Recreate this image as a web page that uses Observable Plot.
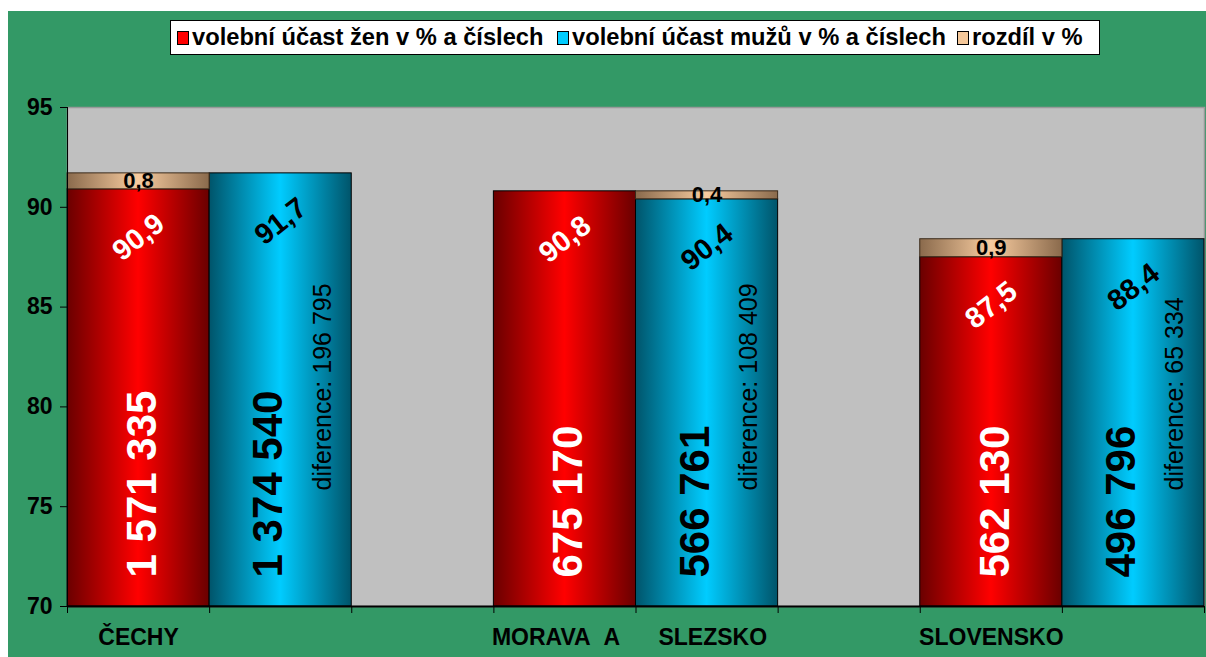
<!DOCTYPE html>
<html>
<head>
<meta charset="utf-8">
<script src="https://cdn.jsdelivr.net/npm/d3@7"></script>
<script src="https://cdn.jsdelivr.net/npm/@observablehq/plot@0.6"></script>
<style>
html, body { margin: 0; padding: 0; background: #fff; }
#wrap { position: absolute; left: 8px; top: 11px; width: 1198px; height: 646px; background: #339966;
  font-family: "Liberation Sans", Arial, sans-serif; }
#legend { position: absolute; left: 162px; top: 9px; width: 928px; height: 33px; background: #fff; border: 1px solid #000; }
.li { position: absolute; top: 0; height: 33px; line-height: 33px; font-size: 23.7px; font-weight: bold; color: #000; white-space: nowrap; }
.sw { position: absolute; top: 10px; width: 10px; height: 12px; border: 1px solid #000; }
#chart { position: absolute; left: 0; top: 0; }
</style>
</head>
<body>
<div id="wrap">
  <div id="chart"></div>
  <div id="legend"></div>
</div>
<script>
// ---- data ----
const categories = ["ČECHY", "MORAVA\u00A0\u00A0A\u00A0\u00A0\u00A0\u00A0\u00A0\u00A0SLEZSKO", "SLOVENSKO"];
const women = [90.9, 90.8, 87.5];            // volební účast žen v %
const men = [91.7, 90.4, 88.4];              // volební účast mužů v %
const womenCounts = ["1 571 335", "675 170", "562 130"];
const menCounts = ["1 374 540", "566 761", "496 796"];
const differenceCounts = ["196 795", "108 409", "65 334"];
const yTicks = [70, 75, 80, 85, 90, 95];
const legendLabels = ["volební účast žen v % a číslech", "volební účast mužů v % a číslech", "rozdíl v %"];
const legendColors = ["#ff0000", "#00ccff", "#f5c89a"];

const fmt = d => d.toFixed(1).replace(".", ",");

// difference segments (drawn on top of the lower bar)
const gaps = categories.map((c, i) => {
  const lo = Math.min(women[i], men[i]), hi = Math.max(women[i], men[i]);
  return {slot: women[i] < men[i] ? 3 * i : 3 * i + 1, lo, hi, label: fmt(hi - lo)};
});

const chart = Plot.plot({
  width: 1198,
  height: 646,
  marginLeft: 59,
  marginRight: 2,
  marginTop: 96,
  marginBottom: 51,
  style: {fontFamily: "'Liberation Sans', Arial, sans-serif", color: "#000", background: "transparent", overflow: "visible"},
  x: {type: "linear", domain: [0, 8], axis: null},
  y: {domain: [70, 95], axis: null},
  marks: [
    Plot.frame({fill: "#c0c0c0", stroke: "#999", strokeWidth: 1.5}),
    Plot.rectY(women, {x1: (d, i) => 3 * i, x2: (d, i) => 3 * i + 1, y1: 70, y2: d => d, fill: "url(#gRed)", stroke: "#000", strokeWidth: 1}),
    Plot.rectY(men, {x1: (d, i) => 3 * i + 1, x2: (d, i) => 3 * i + 2, y1: 70, y2: d => d, fill: "url(#gCyan)", stroke: "#000", strokeWidth: 1}),
    Plot.rectY(gaps, {x1: d => d.slot, x2: d => d.slot + 1, y1: "lo", y2: "hi", fill: "url(#gTan)", stroke: "#3a2a1a", strokeWidth: 1}),
    Plot.ruleX([0], {stroke: "#000", strokeWidth: 1}),
    Plot.ruleY([70], {stroke: "#000", strokeWidth: 2}),
    Plot.axisY({ticks: yTicks, tickSize: 7, tickPadding: 8, fontSize: 23, fontWeight: "bold", tickFormat: d => d, label: null}),
    Plot.axisX({ticks: d3.range(9), tickSize: 7, tickFormat: () => "", label: null}),
    // gap labels
    Plot.text(gaps, {x: d => d.slot + 0.5, y: d => (d.lo + d.hi) / 2, text: "label", fontSize: 22, fontWeight: "bold", fill: "#000"}),
    // percentage labels
    Plot.text(women, {x: (d, i) => 3 * i + 0.5, y: d => d, text: d => fmt(d), rotate: -38, dy: 48, fontSize: 29, fontWeight: "bold", fill: "#fff"}),
    Plot.text(men, {x: (d, i) => 3 * i + 1.5, y: d => d, text: d => fmt(d), rotate: -38, dy: 48, fontSize: 29, fontWeight: "bold", fill: "#000"}),
    // big count labels
    Plot.text(womenCounts, {x: (d, i) => 3 * i + 0.5, y: () => 70, text: d => d, rotate: -90, textAnchor: "start", dx: 4, dy: -29, fontSize: 42, fontWeight: "bold", fill: "#fff"}),
    Plot.text(menCounts, {x: (d, i) => 3 * i + 1.5, y: () => 70, text: d => d, rotate: -90, textAnchor: "start", dx: -12, dy: -29, fontSize: 42, fontWeight: "bold", fill: "#000"}),
    Plot.text(differenceCounts, {x: (d, i) => 3 * i + 1.5, y: () => 70, text: d => "diference: " + d, rotate: -90, textAnchor: "start", dx: 42, dy: -116, fontSize: 25, fill: "#000"}),
    // category labels
    Plot.text(categories, {filter: d => d.length <= 12, x: (d, i) => 3 * i + 0.5, y: () => 70, text: d => d, dy: 31, fontSize: 23, fontWeight: "bold", fill: "#000"}),
    Plot.text(categories, {filter: d => d.length > 12, x: (d, i) => 3 * i, y: () => 70, text: d => d, textAnchor: "start", dx: -2, dy: 31, fontSize: 23, fontWeight: "bold", fill: "#000"})
  ]
});

chart.insertAdjacentHTML("afterbegin", `
<defs>
  <linearGradient id="gRed" x1="0" x2="1" y1="0" y2="0">
    <stop offset="0" stop-color="#6a0000"/><stop offset="0.5" stop-color="#ff0000"/><stop offset="1" stop-color="#6a0000"/>
  </linearGradient>
  <linearGradient id="gCyan" x1="0" x2="1" y1="0" y2="0">
    <stop offset="0" stop-color="#00546a"/><stop offset="0.5" stop-color="#00ccff"/><stop offset="1" stop-color="#00546a"/>
  </linearGradient>
  <linearGradient id="gTan" x1="0" x2="1" y1="0" y2="0">
    <stop offset="0" stop-color="#8a6a4c"/><stop offset="0.5" stop-color="#f8cca0"/><stop offset="1" stop-color="#8a6a4c"/>
  </linearGradient>
</defs>`);
document.getElementById("chart").appendChild(chart);

// legend
const legend = document.getElementById("legend");
const swLeft = [6, 386, 786];
const txtLeft = [21, 401, 801];
legendLabels.forEach((lab, i) => {
  const sw = document.createElement("div");
  sw.className = "sw";
  sw.style.left = swLeft[i] + "px";
  sw.style.background = legendColors[i];
  legend.appendChild(sw);
  const t = document.createElement("div");
  t.className = "li";
  t.style.left = txtLeft[i] + "px";
  t.textContent = lab;
  legend.appendChild(t);
});
</script>
</body>
</html>
